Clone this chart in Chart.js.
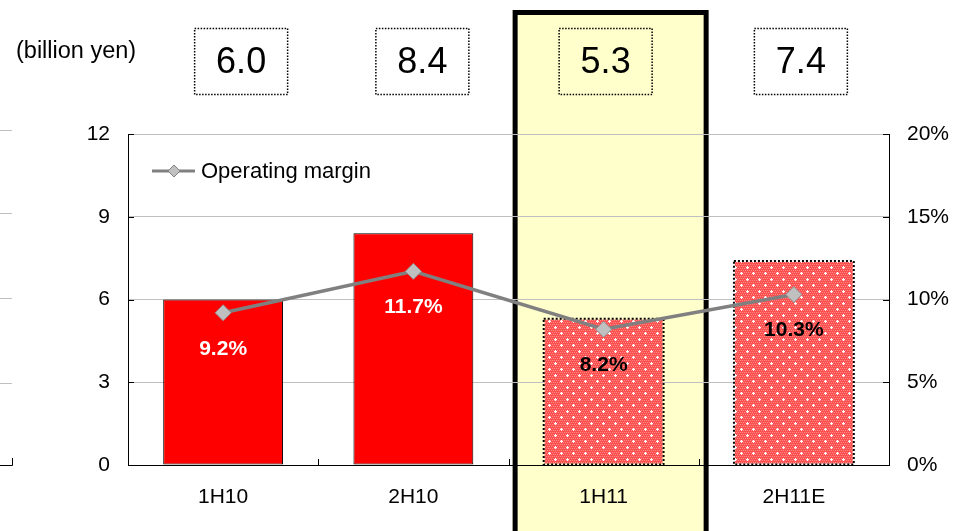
<!DOCTYPE html>
<html>
<head>
<meta charset="utf-8">
<script src="https://cdn.jsdelivr.net/npm/chart.js@4.4.1/dist/chart.umd.min.js"></script>
<style>
  body { margin: 0; background: #fff; }
  #wrap { width: 965px; height: 531px; }
</style>
</head>
<body>
<div id="wrap"><canvas id="marginChart" width="965" height="531"></canvas></div>
<script>
const categories = ["1H10", "2H10", "1H11", "2H11E"];
const operatingIncome = [6.0, 8.4, 5.3, 7.4];     // billion yen
const operatingMargin = [9.2, 11.7, 8.2, 10.3];   // %
const leftTicks = [0, 3, 6, 9, 12];
const rightTicks = [0, 5, 10, 15, 20];
const hatched = [false, false, true, true];
const highlightIndex = 2;
const marginLabelColors = ["#fff", "#fff", "#000", "#000"];
const boxNudge = [18, 9, 2, 7]; // the top boxes sit a little right of each bar

const FONT = '"Liberation Sans", Arial, sans-serif';
Chart.defaults.font.family = FONT;
Chart.defaults.color = "#000";

function makePattern() {
  const c = document.createElement("canvas");
  c.width = 12; c.height = 12;
  const g = c.getContext("2d");
  g.fillStyle = "#ff5050";
  g.fillRect(0, 0, 12, 12);
  g.fillStyle = "#ff8888";
  for (let y = 0; y < 12; y += 2) {
    for (let x = (y / 2) % 2 ? 1 : 0; x < 12; x += 2) g.fillRect(x, y, 1, 1);
  }
  g.fillStyle = "#fff";
  // two staggered plus marks per tile
  g.fillRect(3, 2, 1, 3); g.fillRect(2, 3, 3, 1);
  g.fillRect(9, 8, 1, 3); g.fillRect(8, 9, 3, 1);
  return g.createPattern(c, "repeat");
}
const pattern = makePattern();

const decorations = {
  id: "decorations",
  beforeDraw(chart) {
    const ctx = chart.ctx;
    const x = chart.scales.x;
    const cx = x.getPixelForValue(highlightIndex);
    ctx.save();
    ctx.fillStyle = "#ffffcc";
    ctx.fillRect(cx - 91, 10, 196, 530);
    ctx.strokeStyle = "#000";
    ctx.lineWidth = 5;
    ctx.strokeRect(cx - 88.5, 12.5, 191, 530);
    ctx.restore();
  },
  afterDatasetDraw(chart, args) {
    if (args.index !== 0) return;
    const ctx = chart.ctx;
    const meta = chart.getDatasetMeta(0);
    ctx.save();
    ctx.strokeStyle = "#000";
    ctx.lineWidth = 2;
    ctx.setLineDash([2, 2]);
    meta.data.forEach((bar, i) => {
      if (!hatched[i]) return;
      const w = bar.width;
      ctx.strokeRect(bar.x - w / 2, bar.y, w, bar.base - bar.y);
    });
    ctx.restore();
  },
  afterDraw(chart) {
    const ctx = chart.ctx;
    const x = chart.scales.x, y = chart.scales.y, y1 = chart.scales.y1;
    const area = chart.chartArea;
    ctx.save();

    // inward tick marks
    ctx.strokeStyle = "#000";
    ctx.lineWidth = 1;
    leftTicks.forEach(v => {
      const py = Math.round(y.getPixelForValue(v)) + 0.5;
      ctx.beginPath(); ctx.moveTo(area.left, py); ctx.lineTo(area.left + 6, py); ctx.stroke();
    });
    rightTicks.forEach(v => {
      const py = Math.round(y1.getPixelForValue(v)) + 0.5;
      ctx.beginPath(); ctx.moveTo(area.right - 6, py); ctx.lineTo(area.right, py); ctx.stroke();
    });
    const step = (area.right - area.left) / categories.length;
    for (let i = 1; i < categories.length; i++) {
      const px = Math.round(area.left + step * i) + 0.5;
      ctx.beginPath(); ctx.moveTo(px, area.bottom); ctx.lineTo(px, area.bottom - 6); ctx.stroke();
    }

    // margin labels under the points
    const lineMeta = chart.getDatasetMeta(1);
    ctx.font = "bold 21px " + FONT;
    ctx.textAlign = "center";
    ctx.textBaseline = "middle";
    lineMeta.data.forEach((pt, i) => {
      ctx.fillStyle = marginLabelColors[i];
      ctx.fillText(operatingMargin[i].toFixed(1) + "%", pt.x, pt.y + 36);
    });

    // value boxes at top
    ctx.font = "36px " + FONT;
    categories.forEach((c, i) => {
      const cx = x.getPixelForValue(i) + boxNudge[i];
      ctx.strokeStyle = "#000";
      ctx.lineWidth = 1.5;
      ctx.setLineDash([1.5, 1.5]);
      ctx.strokeRect(cx - 46.5, 28.5, 93, 66);
      ctx.setLineDash([]);
      ctx.fillStyle = "#000";
      ctx.fillText(operatingIncome[i].toFixed(1), cx, 63);
    });

    ctx.font = "23.5px " + FONT;
    ctx.textAlign = "left";
    ctx.fillText("(billion yen)", 16, 52);

    // legend
    ctx.strokeStyle = "#808080";
    ctx.lineWidth = 3;
    ctx.beginPath(); ctx.moveTo(152, 171); ctx.lineTo(195, 171); ctx.stroke();
    ctx.fillStyle = "#c0c0c0";
    ctx.lineWidth = 1;
    ctx.beginPath();
    ctx.moveTo(174, 165); ctx.lineTo(180, 171); ctx.lineTo(174, 177); ctx.lineTo(168, 171); ctx.closePath();
    ctx.fill(); ctx.stroke();
    ctx.fillStyle = "#000";
    ctx.font = "22px " + FONT;
    ctx.fillText("Operating margin", 201, 172);

    // edge of the neighbouring chart on the left
    ctx.strokeStyle = "#c0c0c0";
    [130, 213, 298, 383].forEach(py => {
      ctx.beginPath(); ctx.moveTo(0, py + 0.5); ctx.lineTo(12, py + 0.5); ctx.stroke();
    });
    ctx.strokeStyle = "#000";
    ctx.beginPath(); ctx.moveTo(0, 465.5); ctx.lineTo(12.5, 465.5); ctx.lineTo(12.5, 458); ctx.stroke();

    ctx.restore();
  }
};

new Chart(document.getElementById("marginChart"), {
  data: {
    labels: categories,
    datasets: [
      {
        type: "bar",
        label: "Operating income",
        data: operatingIncome,
        yAxisID: "y",
        backgroundColor: hatched.map(h => h ? pattern : "#ff0000"),
        borderColor: hatched.map(h => h ? "rgba(0,0,0,0)" : "#000"),
        borderWidth: 1,
        borderSkipped: false,
        barPercentage: 0.63,
        categoryPercentage: 1,
        order: 2
      },
      {
        type: "line",
        label: "Operating margin",
        data: operatingMargin,
        yAxisID: "y1",
        borderColor: "#808080",
        borderWidth: 3.5,
        pointStyle: "rectRot",
        pointRadius: 8,
        pointBackgroundColor: "#c0c0c0",
        pointBorderColor: "#909090",
        pointBorderWidth: 1,
        tension: 0,
        order: 1
      }
    ]
  },
  options: {
    responsive: false,
    animation: false,
    layout: { padding: { top: 134, left: 0, right: 0, bottom: 0 } },
    plugins: {
      legend: { display: false },
      tooltip: { enabled: false }
    },
    scales: {
      x: {
        grid: { display: false, drawTicks: false },
        border: { display: true, color: "#000", width: 1 },
        ticks: { font: { size: 21 }, padding: 20, color: "#000" },
        afterFit(s) { s.height = 66; }
      },
      y: {
        position: "left",
        min: 0, max: 12,
        afterBuildTicks(s) { s.ticks = leftTicks.map(v => ({ value: v })); },
        grid: {
          drawTicks: false,
          color: ctx => ctx.tick && ctx.tick.value === 0 ? "rgba(0,0,0,0)" : "#c0c0c0",
          lineWidth: 1
        },
        border: { display: true, color: "#000", width: 1 },
        ticks: { font: { size: 21 }, padding: 18, color: "#000" },
        afterFit(s) { s.width = 128; }
      },
      y1: {
        position: "right",
        min: 0, max: 20,
        afterBuildTicks(s) { s.ticks = rightTicks.map(v => ({ value: v })); },
        grid: { drawOnChartArea: false, drawTicks: false },
        border: { display: true, color: "#000", width: 1 },
        ticks: { font: { size: 21 }, padding: 18, color: "#000", callback: v => v + "%" },
        afterFit(s) { s.width = 76; }
      }
    }
  },
  plugins: [decorations]
});
</script>
</body>
</html>
